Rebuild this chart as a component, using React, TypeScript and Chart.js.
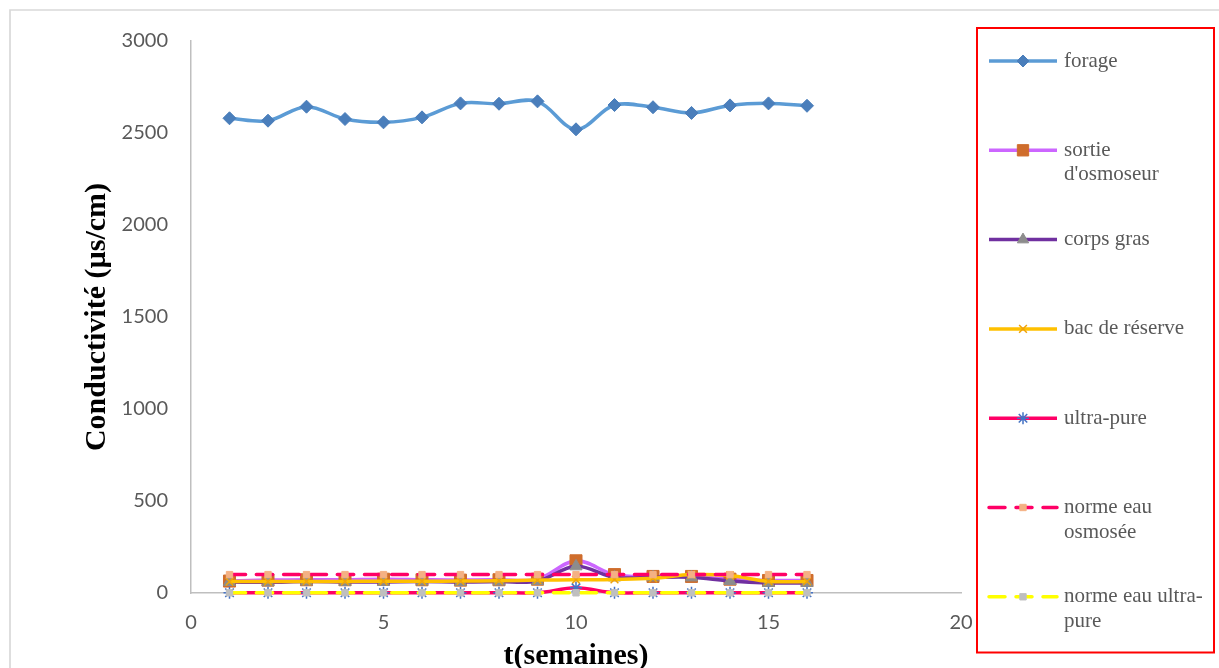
import React, { useEffect, useRef } from 'react';
import { Chart, registerables } from 'chart.js';
import { drawPoint } from 'chart.js/helpers';

Chart.register(...registerables);

// ---- data ----
const weeks = [1, 2, 3, 4, 5, 6, 7, 8, 9, 10, 11, 12, 13, 14, 15, 16];
const seriesNames = [
  'forage',
  "sortie\nd'osmoseur",
  'corps gras',
  'bac de réserve',
  'ultra-pure',
  'norme eau\nosmosée',
  'norme eau ultra-\npure',
];
const forage = [2580, 2567, 2643, 2576, 2558, 2585, 2661, 2659, 2672, 2520, 2652, 2640, 2609, 2650, 2661, 2648];
const sortieOsmoseur = [65, 70, 72, 72, 75, 72, 70, 72, 75, 175, 100, 90, 90, 75, 68, 68];
const corpsGras = [60, 58, 62, 60, 60, 62, 60, 62, 65, 145, 85, 85, 85, 65, 55, 55];
const bacReserve = [62, 62, 63, 63, 64, 64, 65, 67, 70, 72, 74, 80, 100, 95, 63, 63];
const ultraPure = [1, 1, 1, 1, 2, 1, 1, 1, 1, 28, 1, 1, 1, 1, 1, 1];
const normeOsmosee = [100, 100, 100, 100, 100, 100, 100, 100, 100, 100, 100, 100, 100, 100, 100, 100];
const normeUltraPure = [1, 1, 1, 1, 1, 1, 1, 1, 1, 1, 1, 1, 1, 1, 1, 1];
const xTickValues = [0, 5, 10, 15, 20];
const yTickValues = [0, 500, 1000, 1500, 2000, 2500, 3000];
const xTitle = 't(semaines)';
const yTitle = 'Conductivité (µs/cm)';

const toPoints = (vals: number[]) => vals.map((v, i) => ({ x: weeks[i], y: v }));

const frameAndLegend = {
  id: 'frameAndLegend',
  beforeDraw(chart: any) {
    const ctx = chart.ctx;
    ctx.save();
    ctx.fillStyle = '#ffffff';
    ctx.fillRect(0, 0, chart.width, chart.height);
    ctx.strokeStyle = '#d9d9d9';
    ctx.lineWidth = 1.7;
    ctx.beginPath();
    ctx.moveTo(10, chart.height + 2);
    ctx.lineTo(10, 10);
    ctx.lineTo(chart.width + 2, 10);
    ctx.stroke();
    ctx.restore();
  },
  afterDraw(chart: any) {
    const ctx = chart.ctx;
    ctx.save();
    ctx.strokeStyle = '#ff0000';
    ctx.lineWidth = 2;
    ctx.strokeRect(977, 28, 237, 624.5);
    chart.data.datasets.forEach((ds: any, i: number) => {
      const yc = 61 + i * 89.3;
      ctx.save();
      ctx.strokeStyle = ds.borderColor;
      ctx.lineWidth = ds.borderWidth;
      ctx.lineCap = ds.borderDash ? 'round' : 'butt';
      ctx.setLineDash(ds.borderDash || []);
      ctx.beginPath();
      ctx.moveTo(989, yc);
      ctx.lineTo(1057, yc);
      ctx.stroke();
      ctx.restore();
      ctx.save();
      ctx.fillStyle = ds.pointBackgroundColor;
      ctx.strokeStyle = ds.pointBorderColor;
      ctx.lineWidth = ds.pointBorderWidth;
      drawPoint(ctx, { pointStyle: ds.pointStyle, radius: ds.legendRadius, rotation: 0, borderWidth: ds.pointBorderWidth }, 1023, yc);
      ctx.restore();
      ctx.fillStyle = '#595959';
      ctx.font = '21px "Liberation Serif"';
      ctx.textAlign = 'left';
      ctx.textBaseline = 'middle';
      String(ds.label).split('\n').forEach((line: string, k: number) => {
        ctx.fillText(line, 1064, yc + k * 24.5);
      });
    });
    ctx.restore();
  },
};

export default function App() {
  const canvasRef = useRef<HTMLCanvasElement | null>(null);

  useEffect(() => {
    if (!canvasRef.current) return;
    const base = { tension: 0.35, clip: false as any, fill: false };
    const chart = new Chart(canvasRef.current, {
      type: 'line',
      data: {
        datasets: [
          {
            ...base, label: seriesNames[0], data: toPoints(forage), order: 7,
            borderColor: '#5b9bd5', borderWidth: 3.5,
            pointStyle: 'rectRot', pointRadius: 6.5, legendRadius: 6,
            pointBackgroundColor: '#4a7ebb', pointBorderColor: '#4a7ebb', pointBorderWidth: 1,
          },
          {
            ...base, label: seriesNames[1], data: toPoints(sortieOsmoseur), order: 6,
            borderColor: '#cc66ff', borderWidth: 3.5,
            pointStyle: 'rect', pointRadius: 8.5, legendRadius: 8,
            pointBackgroundColor: '#cf6d2c', pointBorderColor: '#cf6d2c', pointBorderWidth: 1,
          },
          {
            ...base, label: seriesNames[2], data: toPoints(corpsGras), order: 5,
            borderColor: '#7030a0', borderWidth: 3.5,
            pointStyle: 'triangle', pointRadius: 7, legendRadius: 6.5,
            pointBackgroundColor: '#8c8c8c', pointBorderColor: '#8c8c8c', pointBorderWidth: 1,
          },
          {
            ...base, label: seriesNames[3], data: toPoints(bacReserve), order: 4,
            borderColor: '#ffc000', borderWidth: 3.5,
            pointStyle: 'crossRot', pointRadius: 5.5, legendRadius: 5.5,
            pointBackgroundColor: '#f0a30a', pointBorderColor: '#f0a30a', pointBorderWidth: 1.5,
          },
          {
            ...base, label: seriesNames[4], data: toPoints(ultraPure), order: 3,
            borderColor: '#ff0066', borderWidth: 3.5,
            pointStyle: 'star', pointRadius: 6, legendRadius: 6,
            pointBackgroundColor: '#4472c4', pointBorderColor: '#4472c4', pointBorderWidth: 1.5,
          },
          {
            ...base, label: seriesNames[5], data: toPoints(normeOsmosee), order: 2,
            borderColor: '#ff0066', borderWidth: 3.5, borderDash: [16, 11], borderCapStyle: 'round',
            pointStyle: 'rect', pointRadius: 4.5, legendRadius: 4.5,
            pointBackgroundColor: '#f4b183', pointBorderColor: '#f4b183', pointBorderWidth: 1,
          },
          {
            ...base, label: seriesNames[6], data: toPoints(normeUltraPure), order: 1,
            borderColor: '#ffff00', borderWidth: 3.5, borderDash: [16, 11], borderCapStyle: 'round',
            pointStyle: 'rect', pointRadius: 4.5, legendRadius: 4.5,
            pointBackgroundColor: '#bfbfbf', pointBorderColor: '#bfbfbf', pointBorderWidth: 1,
          },
        ] as any,
      },
      options: {
        animation: false,
        responsive: false,
        maintainAspectRatio: false,
        layout: { padding: { top: 41, right: 258, left: 0, bottom: 0 } },
        plugins: { legend: { display: false }, tooltip: { enabled: false } },
        scales: {
          x: {
            type: 'linear',
            min: xTickValues[0],
            max: xTickValues[xTickValues.length - 1],
            grid: { display: false, drawTicks: false },
            border: { display: true, color: '#bfbfbf', width: 1.5 },
            ticks: {
              padding: 18, color: '#595959', font: { family: 'Lato', size: 20 }, maxRotation: 0,
              callback: (v: any) => String(v),
            },
            afterBuildTicks: (s: any) => { s.ticks = xTickValues.map((v) => ({ value: v })); },
            afterFit: (s: any) => { s.height = 75; },
            title: {
              display: true, text: xTitle, color: '#000000', padding: 0,
              font: { family: 'Liberation Serif', size: 30, weight: 'bold', lineHeight: 0.8 },
            },
          },
          y: {
            type: 'linear',
            min: yTickValues[0],
            max: yTickValues[yTickValues.length - 1],
            grid: { display: false, drawTicks: false },
            border: { display: true, color: '#bfbfbf', width: 1.5 },
            ticks: {
              padding: 23, color: '#595959', font: { family: 'Lato', size: 20 },
              callback: (v: any) => String(v),
            },
            afterBuildTicks: (s: any) => { s.ticks = yTickValues.map((v) => ({ value: v })); },
            afterFit: (s: any) => { s.width = 191; },
            title: {
              display: true, text: yTitle, color: '#000000', padding: { top: 85, bottom: 0 },
              font: { family: 'Liberation Serif', size: 30, weight: 'bold', lineHeight: 0.8 },
            },
          },
        },
      } as any,
      plugins: [frameAndLegend],
    });
    return () => chart.destroy();
  }, []);

  return (
    <div style={{ position: 'fixed', left: 0, top: 0, width: 1219, height: 668, background: '#fff' }}>
      <canvas ref={canvasRef} width={1219} height={668} style={{ display: 'block', width: 1219, height: 668 }} />
    </div>
  );
}
